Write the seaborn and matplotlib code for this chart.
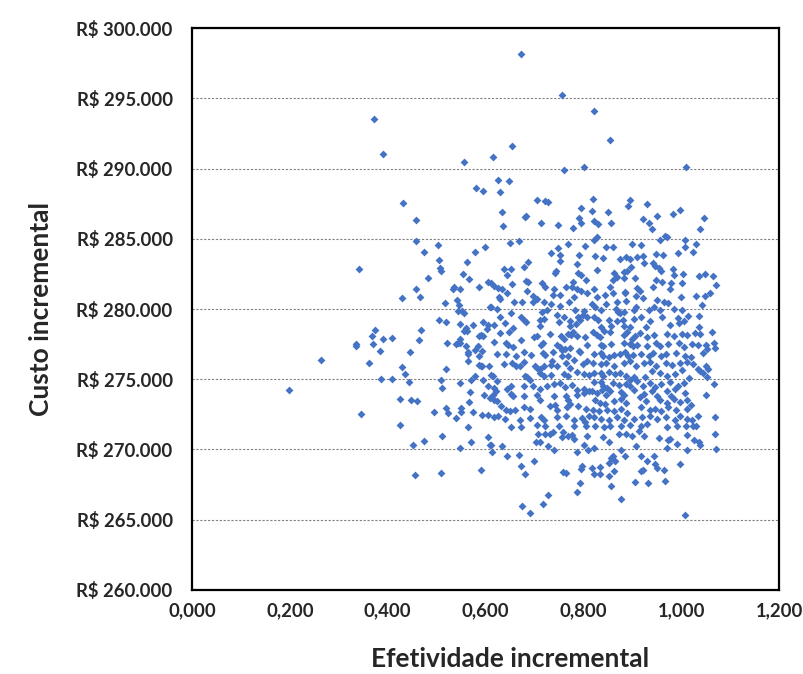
import pandas as pd
import seaborn as sns
import matplotlib.pyplot as plt
from matplotlib.ticker import FuncFormatter

# Simulated incremental results: efetividade (x) vs custo (R$) (y), read off the picture by region

# upper-left scattered region
ef_a = [0.372, 0.390, 0.556, 0.580, 0.595, 0.432, 0.457, 0.458, 0.503, 0.473,
        0.579, 0.599, 0.505, 0.561, 0.506, 0.509, 0.341, 0.554, 0.483, 0.567,
        0.605, 0.458, 0.536, 0.533, 0.547, 0.587]
custo_a = [293506, 291016, 290469, 288619, 288380, 287530, 286343, 284827, 284565, 284045,
           284088, 284444, 283476, 283356, 282950, 282737, 282857, 282502, 282240, 282124,
           281933, 281435, 281555, 281413, 281436, 281555]

# lower-left region
ef_b = [0.429, 0.466, 0.516, 0.542, 0.546, 0.544, 0.552, 0.556, 0.608, 0.504,
        0.519, 0.548, 0.575, 0.594, 0.605, 0.603, 0.559, 0.556, 0.561, 0.374,
        0.368, 0.369, 0.336, 0.336, 0.391, 0.409, 0.467, 0.464, 0.521, 0.547,
        0.544, 0.539, 0.548, 0.559, 0.564, 0.563, 0.563, 0.584, 0.579, 0.593,
        0.587, 0.591, 0.594, 0.587, 0.385, 0.445, 0.263, 0.362, 0.430, 0.436,
        0.443, 0.387, 0.408, 0.519, 0.586, 0.591, 0.593, 0.606, 0.579, 0.509,
        0.511, 0.548, 0.570, 0.595, 0.605, 0.198, 0.424, 0.448, 0.460, 0.569,
        0.596, 0.608, 0.567, 0.519, 0.524, 0.494, 0.549, 0.549, 0.574, 0.593,
        0.604, 0.540, 0.346, 0.424, 0.565, 0.511, 0.605, 0.608, 0.570, 0.473,
        0.452, 0.547, 0.456, 0.509, 0.591]
custo_b = [280773, 280844, 280465, 280653, 280274, 279870, 279892, 279707, 280180, 279230,
           279110, 278945, 278896, 279110, 278874, 278570, 278640, 278400, 278400, 278519,
           278092, 277523, 277523, 277333, 277830, 277950, 278519, 277760, 277594, 277900,
           277615, 277523, 277570, 277333, 276904, 276790, 276314, 277401, 277097, 276975,
           276670, 278115, 278044, 278044, 276975, 276932, 276363, 276122, 275887, 275390,
           274770, 275011, 275011, 275745, 275980, 275909, 275958, 275958, 275247, 274913,
           274393, 274699, 274962, 274913, 274536, 274229, 273611, 273489, 273418, 274087,
           273874, 273660, 273347, 272949, 272594, 272665, 272949, 272665, 272665, 272473,
           272450, 272210, 272544, 271712, 271598, 270958, 270858, 270339, 270530, 270602,
           270289, 270125, 268205, 268325, 268510]

# top-right region
ef_c = [0.672, 0.756, 0.822, 0.854, 0.653, 0.616, 0.760, 0.801, 1.009, 0.625,
        0.648, 0.630, 0.706, 0.722, 0.728, 0.820, 0.817, 0.794, 0.896, 0.891,
        0.930, 0.634, 0.636, 0.680, 0.683, 0.713, 0.748, 0.779, 0.790, 0.794,
        0.822, 0.829, 0.850, 0.857, 0.921, 0.934, 0.951, 0.940, 0.984, 0.998,
        1.047, 1.039]
custo_c = [298172, 295234, 294075, 292055, 291607, 290824, 289900, 290137, 290137, 289167,
           289096, 288356, 287766, 287695, 287624, 287815, 286962, 287197, 287744, 287317,
           287502, 286891, 285916, 286535, 286649, 286151, 285987, 285795, 286464, 286108,
           286273, 286080, 286891, 286151, 286393, 286151, 286649, 285681, 286770, 287076,
           286464, 285681]

# right edge
ef_d = [1.031, 1.023, 1.036, 1.049, 1.065, 1.072, 1.031, 1.049, 1.058, 1.042,
        1.037, 1.037, 1.028, 1.039, 1.063, 1.021, 1.035, 1.051, 1.053, 1.067,
        1.069, 1.044, 1.020, 1.024, 1.034, 1.045, 1.050, 1.054, 1.052, 1.039,
        1.067, 1.051, 1.020, 1.035, 1.070, 1.022, 1.024, 1.030, 1.027, 1.036,
        1.039, 1.070, 1.072]
custo_d = [284614, 284067, 282360, 282502, 282360, 281698, 280958, 280958, 281151, 280275,
           279493, 278732, 278284, 278233, 278375, 277502, 277431, 277431, 277168, 277573,
           277217, 276884, 276577, 276079, 275723, 275439, 275913, 275723, 275154, 275553,
           274657, 273847, 273163, 272402, 272308, 272068, 271690, 271690, 270695, 270506,
           270339, 271100, 270033]

# bottom region
ef_e = [0.707, 0.721, 0.731, 0.737, 0.704, 0.712, 0.759, 0.756, 0.768, 0.777,
        0.781, 0.807, 0.801, 0.810, 0.611, 0.634, 0.614, 0.644, 0.727, 0.739,
        0.668, 0.672, 0.681, 0.698, 0.759, 0.764, 0.787, 0.798, 0.794, 0.792,
        0.786, 0.727, 0.717, 0.675, 0.690,
        0.839, 0.852, 0.822, 0.872, 0.888, 0.899, 0.923, 0.913, 0.954, 0.972,
        0.978, 0.992, 1.012, 1.012, 0.970, 0.908, 0.876, 0.885, 0.861, 0.857,
        0.864, 0.917, 0.945, 0.930, 0.852, 0.947, 0.951, 0.818, 0.833, 0.998,
        0.862, 0.917, 0.922, 0.964, 0.822, 0.833, 0.852, 0.906, 0.931, 0.966,
        0.857, 0.877, 1.007]
custo_e = [271121, 271073, 271073, 271215, 270553, 270553, 271263, 270885, 270932, 271050,
           270766, 270932, 270339, 269985, 270339, 270220, 269843, 269511, 270220, 269985,
           269628, 268848, 268279, 269180, 268400, 268325, 269843, 268848, 268609, 267614,
           266996, 266782, 266142, 266000, 265452,
           270908, 270531, 270077, 271121, 271121, 270932, 270979, 271334, 270837, 270695,
           270742, 270410, 271050, 269935, 270104, 270267, 269985, 269558, 269558, 269392,
           269201, 269511, 269511, 269201, 269038, 268966, 268682, 268703, 268753, 268966,
           268441, 268441, 268510, 268510, 268258, 268230, 268138, 267708, 267614, 267779,
           267424, 266476, 265310]

# core, upper-left block
ef_f = [0.649, 0.668, 0.733, 0.748, 0.768, 0.803, 0.753, 0.790, 0.753, 0.687,
        0.679, 0.637, 0.651, 0.786, 0.741, 0.743, 0.788, 0.794, 0.806, 0.644,
        0.683, 0.686, 0.715, 0.722, 0.779, 0.777, 0.654, 0.618, 0.625, 0.634,
        0.610, 0.739, 0.765, 0.787, 0.794, 0.685, 0.644, 0.627, 0.630, 0.738,
        0.696, 0.753, 0.705, 0.780, 0.808, 0.659, 0.675, 0.697, 0.719, 0.611,
        0.623, 0.770, 0.733, 0.715, 0.753, 0.782, 0.801, 0.726, 0.651, 0.630,
        0.640, 0.672, 0.678, 0.683, 0.712, 0.719, 0.746, 0.750, 0.760, 0.788,
        0.793, 0.773, 0.799, 0.808, 0.617, 0.656, 0.712, 0.772, 0.784]
custo_f = [284684, 284873, 284020, 284328, 284612, 284494, 283854, 283830, 283451, 283356,
           283024, 282882, 282834, 283214, 282597, 282739, 282597, 282431, 282075, 282431,
           282028, 281957, 281838, 281601, 281957, 281554, 281791, 281649, 281483, 281412,
           281838, 281412, 281554, 281412, 281317, 281317, 281175, 280890, 280700, 281009,
           280937, 280985, 280700, 280843, 281175, 280534, 280534, 280534, 280534, 280179,
           279989, 280534, 280368, 279823, 280226, 279942, 279894, 279942, 279704, 279467,
           278993, 279420, 279183, 279088, 279230, 279278, 279562, 279041, 279420, 279420,
           279230, 279112, 279586, 279420, 278875, 278638, 278756, 278756, 278946]

# core, upper-right block
ef_g = [0.822, 0.828, 0.847, 0.861, 0.900, 0.918, 0.957, 0.966, 0.971, 1.007,
        0.824, 0.841, 0.874, 0.888, 0.895, 0.910, 0.922, 0.948, 0.963, 0.993,
        1.007, 0.827, 0.863, 0.882, 0.897, 0.889, 0.923, 0.942, 0.947, 0.954,
        0.959, 0.983, 0.986, 1.004, 0.861, 0.869, 0.882, 0.906, 0.949, 0.961,
        0.979, 1.002, 0.822, 0.855, 0.845, 0.861, 0.884, 0.886, 0.910, 0.915,
        0.942, 0.978, 1.000, 0.827, 0.818, 0.847, 0.869, 0.888, 0.908, 0.922,
        0.951, 0.964, 0.972, 0.824, 0.835, 0.867, 0.870, 0.874, 0.882, 0.903,
        0.908, 0.934, 0.944, 0.957, 0.985, 1.002, 0.821, 0.829, 0.852, 0.869,
        0.881, 0.903, 0.918, 0.937, 0.961, 0.993, 1.005, 1.013, 0.835, 0.857,
        0.882, 0.896, 0.927, 0.978, 0.995]
custo_g = [284921, 285110, 284447, 284399, 284636, 284565, 284921, 285205, 285110, 284921,
           283783, 283617, 283569, 283688, 283546, 283688, 283783, 283925, 283854, 284020,
           284399, 282787, 282597, 282668, 282976, 282739, 283308, 283308, 283071, 282905,
           282739, 282834, 282431, 282502, 282075, 282265, 282194, 282194, 282075, 281957,
           281886, 281838, 281412, 281554, 281009, 281127, 281246, 281127, 281483, 281317,
           281554, 281412, 280843, 280890, 280368, 280368, 280534, 280605, 280937, 280771,
           280653, 280534, 280416, 280179, 279942, 279989, 279823, 279704, 279823, 279942,
           280131, 279942, 280179, 279942, 279989, 279942, 279420, 279230, 279183, 279112,
           279230, 279278, 279420, 279112, 279420, 279349, 279112, 279515, 278709, 278756,
           278756, 278709, 278709, 278875, 278993]

# core, lower-left block
ef_h = [0.618, 0.630, 0.647, 0.642, 0.645, 0.656, 0.672, 0.698, 0.705, 0.713,
        0.718, 0.731, 0.754, 0.760, 0.768, 0.775, 0.779, 0.787, 0.804, 0.746,
        0.753, 0.756, 0.763, 0.773, 0.790, 0.808, 0.623, 0.642, 0.678, 0.663,
        0.693, 0.718, 0.722, 0.738, 0.736, 0.756, 0.768, 0.793, 0.780, 0.637,
        0.654, 0.663, 0.671, 0.678, 0.700, 0.705, 0.711, 0.719, 0.733, 0.746,
        0.765, 0.773, 0.799, 0.808, 0.611, 0.615, 0.623, 0.681, 0.685, 0.690,
        0.712, 0.719, 0.733, 0.760, 0.768, 0.787, 0.801, 0.811, 0.617, 0.622,
        0.644, 0.651, 0.678, 0.697, 0.712, 0.726, 0.739, 0.753, 0.763, 0.777,
        0.787, 0.802, 0.615, 0.618, 0.623, 0.652, 0.656, 0.678, 0.705, 0.712,
        0.739, 0.765, 0.768, 0.786, 0.801, 0.811, 0.632, 0.642, 0.649, 0.661,
        0.679, 0.690, 0.731, 0.741, 0.746, 0.767, 0.773, 0.788, 0.806, 0.811,
        0.617, 0.625, 0.640, 0.671, 0.690, 0.713, 0.719, 0.746, 0.765, 0.780,
        0.797, 0.804, 0.651, 0.672, 0.705, 0.722, 0.750, 0.780, 0.806]
custo_h = [277618, 278282, 278329, 277571, 277452, 277286, 277808, 277997, 278045, 277452,
           277571, 278187, 278045, 277855, 278234, 278163, 278329, 278045, 277997, 277452,
           277286, 277049, 277144, 277215, 276978, 277452, 276812, 276812, 276907, 276670,
           276741, 276859, 276741, 276907, 276267, 276622, 276670, 276907, 276385, 276101,
           276148, 275911, 275958, 276195, 275958, 275792, 275721, 275911, 276029, 275911,
           276148, 275792, 276101, 276267, 275318, 275200, 274844, 275247, 275152, 274963,
           275437, 275247, 275318, 275389, 275200, 275484, 275389, 275318, 274370, 274133,
           274299, 274488, 274488, 274536, 274299, 274488, 274678, 274725, 274441, 274607,
           274204, 274299, 273895, 273540, 273421, 273967, 273777, 273777, 273895, 273540,
           273777, 273824, 273540, 273895, 274014, 274133, 273113, 272781, 272710, 272829,
           273018, 272876, 273066, 273184, 272829, 273018, 273255, 273113, 272876, 272354,
           272307, 272402, 272165, 272070, 272236, 272307, 272117, 272307, 272402, 272117,
           272236, 271928, 271596, 271596, 271762, 271643, 271690, 271690, 271643]

# core, lower-right block (densest)
ef_i = [0.820, 0.827, 0.833, 0.843, 0.854, 0.882, 0.889, 0.900, 0.906, 0.916, 0.929, 0.945, 0.971, 0.985, 1.002, 1.012,
        0.835, 0.841, 0.857, 0.882, 0.895, 0.902, 0.910, 0.930, 0.949, 0.957, 0.972, 0.995, 1.005,
        0.821, 0.835, 0.840, 0.852, 0.862, 0.874, 0.884, 0.891, 0.902, 0.917, 0.934, 0.942, 0.959, 0.968, 0.990, 1.007,
        0.820, 0.835, 0.847, 0.862, 0.882, 0.896, 0.908, 0.923, 0.936, 0.949, 0.968, 0.981, 0.997, 1.012,
        0.822, 0.835, 0.841, 0.852, 0.865, 0.874, 0.888, 0.896, 0.904, 0.925, 0.940, 0.957, 0.971, 0.988, 1.002, 1.015,
        0.821, 0.835, 0.841, 0.848, 0.861, 0.872, 0.888, 0.895, 0.910, 0.922, 0.937, 0.947, 0.959, 0.978, 0.993, 1.005,
        0.818, 0.828, 0.838, 0.847, 0.855, 0.876, 0.882, 0.904, 0.923, 0.940, 0.951, 0.970, 0.979, 0.988, 1.007,
        0.824, 0.833, 0.845, 0.863, 0.877, 0.888, 0.915, 0.927, 0.957, 0.971, 0.985, 0.997, 1.012,
        0.820, 0.831, 0.848, 0.862, 0.877, 0.889, 0.917, 0.936, 0.947, 0.959, 0.972, 0.990, 1.012,
        0.821, 0.835, 0.852, 0.869, 0.882, 0.903, 0.920, 0.937, 0.951, 0.968, 0.988, 0.998, 1.012,
        0.824, 0.842, 0.855, 0.876, 0.895, 0.917, 0.929, 0.971, 0.992, 1.009]
custo_i = [278329, 278163, 277997, 278400, 278329, 278163, 278329, 277855, 278045, 278282, 277997, 278163, 278234, 278092, 278234, 278163,
           277452, 277334, 277523, 277571, 277523, 277334, 277452, 277334, 277571, 277381, 277523, 277571, 277286,
           276812, 276859, 276622, 276575, 276741, 276812, 276907, 276670, 276741, 276812, 276670, 276859, 276622, 276812, 276859, 276670,
           276148, 276101, 276148, 275958, 276148, 276267, 275958, 276148, 276195, 275911, 276148, 276029, 276148, 276195,
           275437, 275437, 275247, 275484, 275389, 275437, 275200, 274963, 275152, 275152, 275555, 275437, 275247, 275389, 275674, 275081,
           274773, 274773, 274536, 274370, 274725, 274607, 274678, 274488, 274844, 274536, 274725, 274441, 274678, 274773, 274488, 274725,
           274133, 274014, 274251, 273895, 274133, 274062, 273895, 274251, 273967, 274133, 273824, 274133, 273824, 274299, 274014,
           273492, 273303, 273255, 273421, 273587, 273303, 273730, 273421, 273492, 273303, 273587, 273350, 273540,
           272829, 272710, 272829, 272710, 272876, 272591, 273018, 272829, 272876, 272710, 273018, 272829, 272876,
           272307, 272165, 272117, 272307, 272117, 272165, 272307, 272354, 272165, 272307, 272070, 272402, 272165,
           271643, 271596, 271690, 271643, 271762, 271643, 271833, 271596, 271643, 271690]

efetividade = ef_a + ef_b + ef_c + ef_d + ef_e + ef_f + ef_g + ef_h + ef_i
custo = custo_a + custo_b + custo_c + custo_d + custo_e + custo_f + custo_g + custo_h + custo_i
df = pd.DataFrame({'efetividade': efetividade, 'custo': custo})

sns.set_style('white')
plt.rcParams['font.family'] = ['Lato', 'DejaVu Sans']

fig = plt.figure(figsize=(8.04, 6.74), dpi=100)
ax = fig.add_axes([0.239, 0.125, 0.730, 0.833])

sns.scatterplot(data=df, x='efetividade', y='custo', ax=ax, marker='D', s=16,
                color='#4472C4', linewidth=0, zorder=3)

ax.set_xlim(0, 1.2)
ax.set_ylim(260000, 300000)
ax.set_xticks([0, 0.2, 0.4, 0.6, 0.8, 1.0, 1.2])
ax.set_yticks(range(260000, 300001, 5000))
ax.xaxis.set_major_formatter(FuncFormatter(lambda v, p: f'{v:.3f}'.replace('.', ',')))
ax.yaxis.set_major_formatter(FuncFormatter(lambda v, p: 'R$ ' + f'{int(v):,}'.replace(',', '.')))

ax.grid(axis='y', color='#808080', linestyle=(0, (2, 1.5)), linewidth=0.8, zorder=0)
ax.grid(axis='x', visible=False)
for s in ax.spines.values():
    s.set_color('black')
    s.set_linewidth(1.6)

ax.tick_params(axis='both', length=0, labelsize=13.3)
ax.tick_params(axis='y', pad=14)
ax.tick_params(axis='x', pad=9)
for lbl in ax.get_xticklabels() + ax.get_yticklabels():
    lbl.set_fontweight('bold')

ax.set_xlabel('Efetividade incremental', fontsize=19, fontweight='bold', labelpad=20)
ax.xaxis.label.set_x(0.542)
ax.set_ylabel('Custo incremental', fontsize=19, fontweight='bold', labelpad=17)

fig.savefig('out.png', dpi=100)
